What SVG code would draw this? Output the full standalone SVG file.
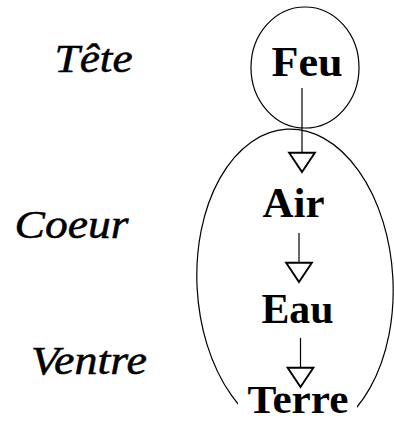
<svg xmlns="http://www.w3.org/2000/svg" width="394" height="421" viewBox="0 0 394 421">
  <style>
    .outline { fill: none; stroke: #000; stroke-width: 1.2; }
    .el { font-family: "Liberation Serif", "Times New Roman", serif; font-weight: bold; font-size: 42px; fill: #000; text-anchor: middle; }
    .lbl { font-family: "Liberation Serif", "Times New Roman", serif; font-style: italic; font-size: 40px; fill: #000; stroke: #000; stroke-width: 0.5; text-anchor: middle; }
    .conn { stroke: #000; stroke-width: 1.2; fill: none; }
  </style>
  <defs>
    <marker id="open-tri" markerUnits="userSpaceOnUse" markerWidth="30" markerHeight="30" viewBox="-20 -14 22 28" refX="0" refY="0" orient="auto" overflow="visible">
      <path d="M0,0 L-18,-12 L-18,12 Z" fill="#fff" stroke="#000" stroke-width="1.8" stroke-linejoin="miter"/>
    </marker>
  </defs>
  <rect width="394" height="421" fill="#fff"/>

  <g id="labels">
    <text class="lbl" x="93.5" y="72" textLength="78" lengthAdjust="spacingAndGlyphs">Tête</text>
    <text class="lbl" x="71.5" y="238" textLength="114" lengthAdjust="spacingAndGlyphs">Coeur</text>
    <text class="lbl" x="89" y="374" textLength="116" lengthAdjust="spacingAndGlyphs">Ventre</text>
  </g>

  <g id="tete-circle">
    <ellipse class="outline" cx="305" cy="67.5" rx="54" ry="60.5"/>
  </g>
  <g id="corps-ellipse">
    <ellipse class="outline" cx="295" cy="283" rx="98" ry="154" transform="rotate(-3 295 283)"/>
  </g>

  <g id="connectors">
    <line class="conn" x1="302" y1="88" x2="302" y2="172" marker-end="url(#open-tri)"/>
    <line class="conn" x1="299" y1="233" x2="299" y2="282" marker-end="url(#open-tri)"/>
    <line class="conn" x1="300.5" y1="338" x2="300.5" y2="387" marker-end="url(#open-tri)"/>
  </g>

  <g id="feu">
    <text class="el" x="307" y="76" textLength="71" lengthAdjust="spacingAndGlyphs">Feu</text>
  </g>
  <g id="air">
    <text class="el" x="293.5" y="217" textLength="62" lengthAdjust="spacingAndGlyphs">Air</text>
  </g>
  <g id="eau">
    <text class="el" x="297.5" y="323" textLength="72" lengthAdjust="spacingAndGlyphs">Eau</text>
  </g>
  <g id="terre">
    <rect x="238" y="392" width="119" height="29" fill="#fff"/>
    <text class="el" x="298" y="413" style="font-size:40px" textLength="101" lengthAdjust="spacingAndGlyphs">Terre</text>
  </g>
</svg>
